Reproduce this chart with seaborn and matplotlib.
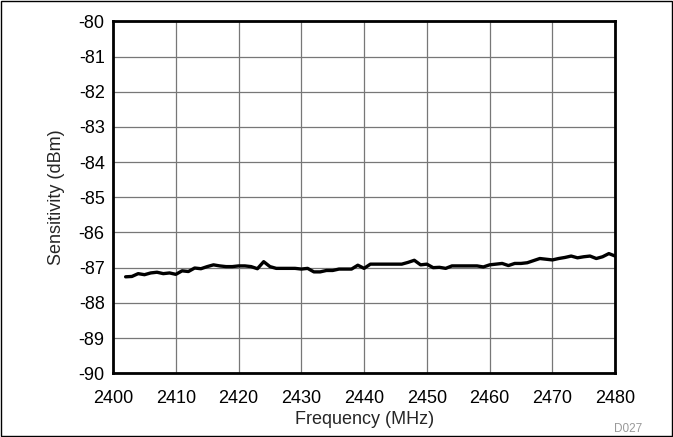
import numpy as np
import pandas as pd
import matplotlib
matplotlib.use("Agg")
import matplotlib.pyplot as plt
import seaborn as sns
from matplotlib.patches import Rectangle

freq = list(range(2402, 2481))
sensitivity = [
    -87.26, -87.25, -87.17, -87.20, -87.15, -87.13, -87.17, -87.15, -87.19, -87.09,
    -87.11, -87.01, -87.03, -86.97, -86.92, -86.95, -86.97, -86.97, -86.95, -86.95,
    -86.97, -87.03, -86.83, -86.97, -87.02, -87.02, -87.02, -87.02, -87.04, -87.02,
    -87.12, -87.12, -87.08, -87.08, -87.04, -87.04, -87.04, -86.93, -87.02, -86.90,
    -86.90, -86.90, -86.90, -86.90, -86.90, -86.85, -86.79, -86.92, -86.90, -87.00,
    -86.99, -87.02, -86.95, -86.95, -86.95, -86.95, -86.95, -86.98, -86.92, -86.90,
    -86.88, -86.94, -86.88, -86.88, -86.86, -86.80, -86.74, -86.76, -86.78, -86.74,
    -86.71, -86.67, -86.72, -86.69, -86.67, -86.74, -86.69, -86.60, -86.67,
]

df = pd.DataFrame({"Frequency": freq, "Sensitivity": sensitivity})

sns.set_style("white")
plt.rcParams["font.family"] = ["Liberation Sans", "DejaVu Sans"]
plt.rcParams["axes.unicode_minus"] = False

fig = plt.figure(figsize=(6.73, 4.37), dpi=100)
ax = fig.add_axes([0.168, 0.146, 0.746, 0.805])

sns.lineplot(data=df, x="Frequency", y="Sensitivity", color="black", linewidth=2.4, ax=ax)

ax.set_xlim(2400, 2480)
ax.set_ylim(-90, -80)
ax.set_xticks(range(2400, 2481, 10))
ax.set_yticks(range(-90, -79, 1))
ax.grid(True, color="#777777", linewidth=0.9)
ax.set_axisbelow(True)
for s in ax.spines.values():
    s.set_visible(True)
    s.set_color("black")
    s.set_linewidth(2)
ax.tick_params(axis="both", labelsize=13, length=0, colors="black")
ax.tick_params(axis="y", pad=6)
ax.tick_params(axis="x", pad=12)
ax.set_xlabel("Frequency (MHz)", fontsize=13, labelpad=3)
ax.set_ylabel("Sensitivity (dBm)", fontsize=13, labelpad=10)

fig.text(0.954, 0.012, "D027", fontsize=8.5, color="#999999", ha="right")
fig.add_artist(Rectangle((0.002, 0.003), 0.996, 0.994, transform=fig.transFigure,
                         fill=False, edgecolor="black", linewidth=1))

fig.savefig("out.png", dpi=100)
